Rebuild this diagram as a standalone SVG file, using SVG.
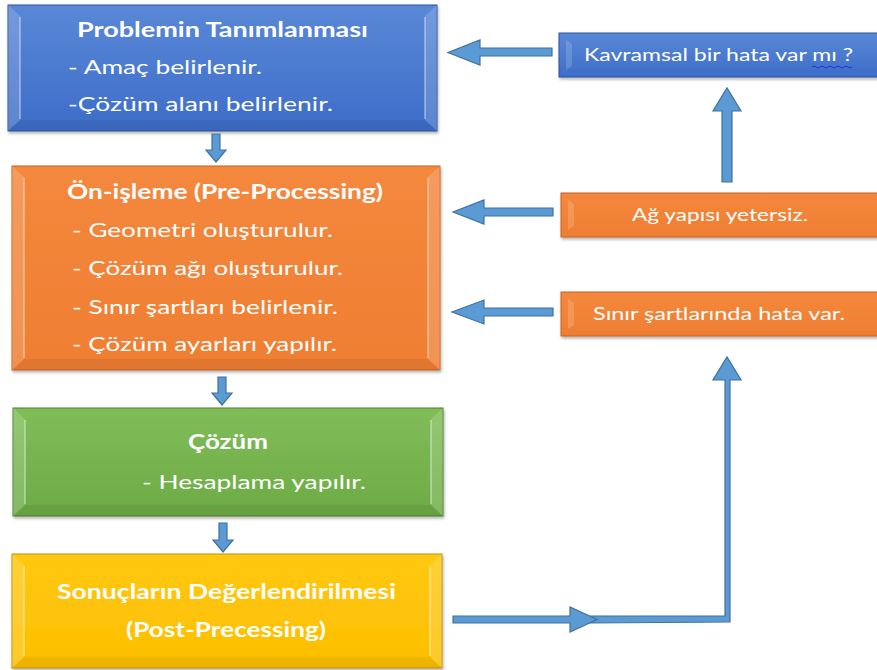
<svg xmlns="http://www.w3.org/2000/svg" width="877" height="670" viewBox="0 0 877 670">
<defs>
<linearGradient id="gBlue" x1="0" y1="0" x2="0" y2="1"><stop offset="0" stop-color="#5A88D7"/><stop offset="1" stop-color="#3D6DC8"/></linearGradient>
<linearGradient id="gOrange" x1="0" y1="0" x2="0" y2="1"><stop offset="0" stop-color="#F4883D"/><stop offset="1" stop-color="#EF7E32"/></linearGradient>
<linearGradient id="gGreen" x1="0" y1="0" x2="0" y2="1"><stop offset="0" stop-color="#80BD58"/><stop offset="1" stop-color="#6DAB46"/></linearGradient>
<linearGradient id="gYellow" x1="0" y1="0" x2="0" y2="1"><stop offset="0" stop-color="#FFC812"/><stop offset="1" stop-color="#FDBF00"/></linearGradient>
<filter id="sh" x="-5%" y="-5%" width="110%" height="115%"><feDropShadow dx="1" dy="2" stdDeviation="1.5" flood-color="#000" flood-opacity="0.3"/></filter>
</defs>
<style>
text{font-family:Lato,"Liberation Sans",sans-serif;fill:#fff}
.t{font-weight:bold;font-size:20px}
.b{font-size:19.5px}
.s{font-size:16.5px}
.arr{fill:#5B9BD5;stroke:#41719C;stroke-width:1.2}
.hl{fill:#fff;opacity:0.16}
.ln{stroke:#fff;stroke-opacity:0.45;stroke-width:1.5}
.dk{fill:#000;opacity:0.06}
</style>

<g id="n1">
<rect x="8" y="5" width="429" height="126" fill="url(#gBlue)" stroke="#2F5597" stroke-width="1" filter="url(#sh)"/>
<polygon class="hl" points="8,5 20,16 20,120 8,131"/>
<polygon class="hl" points="437,5 425,16 425,120 437,131"/>
<line class="ln" x1="20" y1="17" x2="20" y2="119"/>
<line class="ln" x1="425" y1="17" x2="425" y2="119"/>
<polygon class="dk" points="8,131 437,131 425,120 20,120"/>
<text class="t" x="77" y="37" textLength="291" lengthAdjust="spacingAndGlyphs">Problemin Tanımlanması</text>
<text class="b" x="68" y="74" textLength="194" lengthAdjust="spacingAndGlyphs">- Amaç belirlenir.</text>
<text class="b" x="68" y="111" textLength="265" lengthAdjust="spacingAndGlyphs">-Çözüm alanı belirlenir.</text>
</g>

<g id="n2">
<rect x="12" y="166" width="428" height="204" fill="url(#gOrange)" stroke="#C0632A" stroke-width="1" filter="url(#sh)"/>
<polygon class="hl" points="12,166 24,177 24,359 12,370"/>
<polygon class="hl" points="440,166 428,177 428,359 440,370"/>
<line class="ln" x1="24" y1="178" x2="24" y2="358"/>
<line class="ln" x1="428" y1="178" x2="428" y2="358"/>
<polygon class="dk" points="12,370 440,370 428,359 24,359"/>
<text class="t" x="67" y="199" textLength="316" lengthAdjust="spacingAndGlyphs">Ön-işleme (Pre-Processing)</text>
<text class="b" x="72" y="237" textLength="261" lengthAdjust="spacingAndGlyphs">- Geometri oluşturulur.</text>
<text class="b" x="72" y="275" textLength="271" lengthAdjust="spacingAndGlyphs">- Çözüm ağı oluşturulur.</text>
<text class="b" x="72" y="314" textLength="266" lengthAdjust="spacingAndGlyphs">- Sınır şartları belirlenir.</text>
<text class="b" x="72" y="351" textLength="265" lengthAdjust="spacingAndGlyphs">- Çözüm ayarları yapılır.</text>
</g>

<g id="n3">
<rect x="13" y="408" width="430" height="108" fill="url(#gGreen)" stroke="#4E7F30" stroke-width="1" filter="url(#sh)"/>
<polygon class="hl" points="13,408 25,419 25,505 13,516"/>
<polygon class="hl" points="443,408 431,419 431,505 443,516"/>
<line class="ln" x1="25" y1="420" x2="25" y2="504"/>
<line class="ln" x1="431" y1="420" x2="431" y2="504"/>
<polygon class="dk" points="13,516 443,516 431,505 25,505"/>
<text class="t" x="188" y="449" textLength="80" lengthAdjust="spacingAndGlyphs">Çözüm</text>
<text class="b" x="142" y="489" textLength="224" lengthAdjust="spacingAndGlyphs">- Hesaplama yapılır.</text>
</g>

<g id="n4">
<rect x="12" y="554" width="430" height="114" fill="url(#gYellow)" stroke="#BF9000" stroke-width="1" filter="url(#sh)"/>
<polygon class="hl" points="12,554 24,565 24,657 12,668"/>
<polygon class="hl" points="442,554 430,565 430,657 442,668"/>
<line class="ln" x1="24" y1="566" x2="24" y2="656"/>
<line class="ln" x1="430" y1="566" x2="430" y2="656"/>
<polygon class="dk" points="12,668 442,668 430,657 24,657"/>
<text class="t" x="57" y="599" textLength="339" lengthAdjust="spacingAndGlyphs">Sonuçların Değerlendirilmesi</text>
<text class="t" x="126" y="637" textLength="200" lengthAdjust="spacingAndGlyphs">(Post-Precessing)</text>
</g>

<g id="n5">
<rect x="559" y="33" width="330" height="44" fill="url(#gBlue)" stroke="#2F5597" stroke-width="1" filter="url(#sh)"/>
<polygon class="hl" points="566,40 572,44 572,66 566,70"/>
<text class="s" x="584" y="61" textLength="269" lengthAdjust="spacingAndGlyphs">Kavramsal bir hata var mı ?</text>
<path d="M812,67 q2,-2 4,0 t4,0 t4,0 t4,0 t4,0 t4,0 t4,0 t4,0 t4,0 t4,0" fill="none" stroke="#2030E0" stroke-width="1"/>
</g>

<g id="n6">
<rect x="561" y="193" width="330" height="44" fill="url(#gOrange)" stroke="#C0632A" stroke-width="1" filter="url(#sh)"/>
<polygon class="hl" points="568,200 574,204 574,226 568,230"/>
<text class="s" x="632" y="221" textLength="176" lengthAdjust="spacingAndGlyphs">Ağ yapısı yetersiz.</text>
</g>

<g id="n7">
<rect x="561" y="292" width="330" height="44" fill="url(#gOrange)" stroke="#C0632A" stroke-width="1" filter="url(#sh)"/>
<polygon class="hl" points="568,299 574,303 574,325 568,329"/>
<text class="s" x="593" y="320" textLength="252" lengthAdjust="spacingAndGlyphs">Sınır şartlarında hata var.</text>
</g>

<g id="connectors">
<polygon class="arr" points="212,134 220,134 220,150 226,150 216,162 206,150 212,150"/>
<polygon class="arr" points="218,377 226,377 226,393 232,393 222,405 212,393 218,393"/>
<polygon class="arr" points="219,523 227,523 227,540 233,540 223,552 213,540 219,540"/>
<polygon class="arr" points="552,48 480,48 480,40 448,52.5 480,65 480,56 552,56"/>
<polygon class="arr" points="553,208 484,208 484,200 453,212 484,224 484,216 553,216"/>
<polygon class="arr" points="553,308 484,308 484,300 452,312 484,324 484,316 553,316"/>
<polygon class="arr" points="722,182 722,111 713,111 727,88 741,111 732,111 732,182"/>
<polygon class="arr" points="590,616 725,616 725,380 713,380 727,357 741,380 730,380 730,622 590,623"/>
<polygon class="arr" points="453,616 570,616 570,607 597,619.5 570,632 570,623 453,623"/>
</g>
</svg>
